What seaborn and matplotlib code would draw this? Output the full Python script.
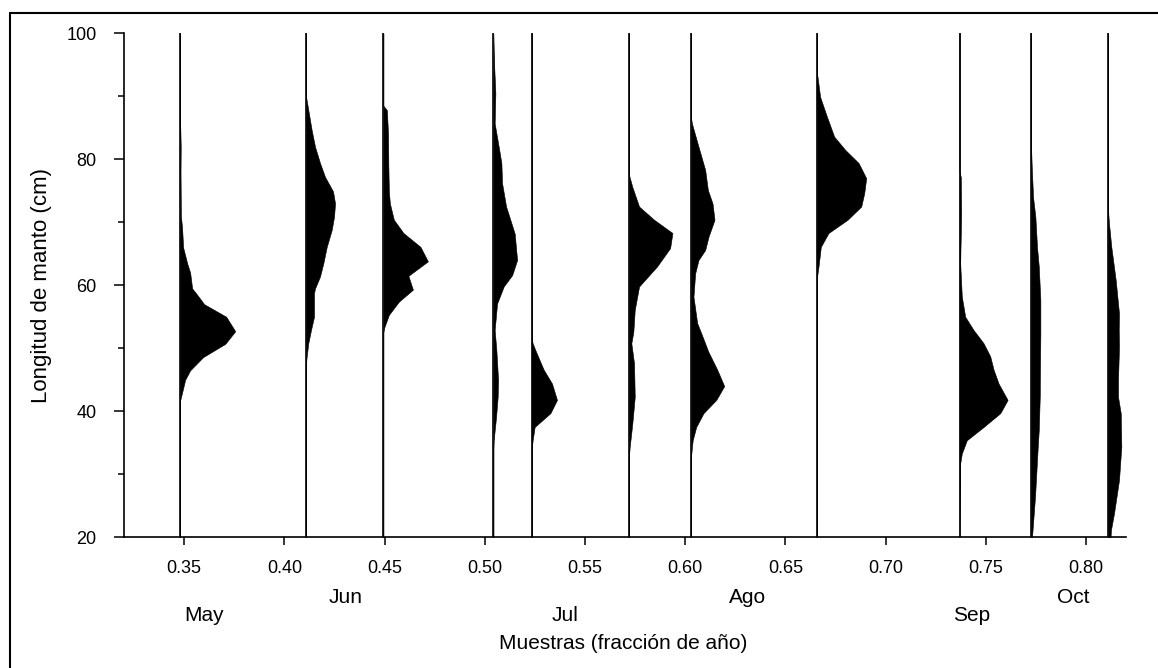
import numpy as np
import matplotlib
matplotlib.use("Agg")
import matplotlib.pyplot as plt
import matplotlib.transforms as mtransforms
from matplotlib.lines import Line2D
import seaborn as sns

# Sampling dates (fraction of year) and the length-frequency profile of each sample.
# Lengths in cm, frequencies in relative units (drawn to the right of each sample line).
sample_x = [0.348, 0.4108, 0.4494, 0.5043, 0.5234, 0.5720, 0.6030, 0.6657, 0.7369, 0.7726, 0.8110]

len_s01 = [100, 86, 82, 78, 74, 71, 69, 66, 63.5, 62, 59.5, 58.7, 57, 55, 52.7, 50.7, 48.6, 46.5, 45, 43, 41.7, 20]
frq_s01 = [0, 0, 0.6, 0.4, 0.6, 0.8, 2, 3, 7, 10, 12, 16, 24, 46, 55, 45, 23, 10, 5, 2, 0, 0]

len_s02 = [100, 90, 84.6, 82, 79.4, 77.2, 74.9, 73, 70.9, 68.8, 66.1, 63.5, 61.4, 59.5, 58.7, 55, 52.9, 50.8, 48.7, 47.5, 20]
frq_s02 = [0, 0, 5.7, 9, 14, 19, 27, 29, 28, 25.7, 20.7, 17.3, 14, 9, 8, 8, 5, 2.3, 0.7, 0, 0]

len_s03 = [100, 88.5, 87.8, 84, 79, 75, 73, 70.4, 68.3, 66.1, 63.8, 61.5, 59.3, 57.4, 55.3, 53.2, 52.5, 20]
frq_s03 = [0, 0, 3.5, 4.7, 5, 5.5, 6.5, 10.5, 20, 37, 44.5, 25, 29.5, 15.5, 5.5, 0.7, 0, 0]

len_s04 = [100, 95.2, 90.5, 85.7, 82, 79.4, 76.2, 72.5, 68.2, 64, 61.6, 59.8, 57.1, 52.9, 49.7, 45, 42.3, 39.1, 35.4, 34, 20]
frq_s04 = [0, 0.7, 2, 1.3, 5.3, 8, 8.7, 12.7, 21.3, 23.7, 18.7, 10.3, 3.7, 1.3, 3, 4.7, 4.3, 2.7, 0.3, 0, 0]

len_s05 = [100, 51.5, 50.8, 49.7, 46.6, 44.4, 41.8, 39.7, 37.5, 35.4, 33.9, 20]
frq_s05 = [0, 0, 1, 3.7, 12, 20.3, 25.3, 18.7, 3, 1, 0, 0]

len_s06 = [100, 77.5, 75.6, 72.5, 70.4, 68.3, 65.9, 63, 59.8, 56.1, 52.6, 50.8, 47.6, 42.3, 38.1, 34.4, 33, 20]
frq_s06 = [0, 0, 3.3, 10, 25, 43.3, 41, 28, 10, 5.7, 4.3, 2.3, 5, 5.7, 3.3, 0.7, 0, 0]

len_s07 = [100, 86.5, 85.7, 82, 78.3, 75.1, 73, 70.4, 67.7, 65.6, 64, 61.9, 58.2, 54, 52, 49.5, 46.6, 44, 41.8, 39.7, 37.5, 35.4, 33, 20]
frq_s07 = [0, 0, 0.7, 7.3, 14, 16.7, 21.3, 23.3, 17.3, 14, 7.3, 4, 2.3, 6, 11, 17, 26, 33, 25, 12.3, 5, 1.5, 0, 0]

len_s08 = [100, 93.5, 93.1, 89.9, 86.8, 83.6, 81.5, 79.4, 77, 74.6, 72.5, 70.4, 68.3, 66.1, 63, 61.4, 20]
frq_s08 = [0, 0, 0.7, 3.3, 10, 17.3, 28.3, 41.7, 49.3, 47.3, 44.3, 30.7, 11.7, 4, 1.7, 0.3, 0]

len_s09 = [100, 78, 77.2, 71.4, 63.5, 58.2, 55, 52.9, 50.8, 48.7, 46.6, 44.4, 41.8, 39.7, 37.5, 35.4, 33.3, 31.7, 20]
frq_s09 = [0, 0, 1.3, 1.7, 0.7, 2.3, 5.7, 14, 24, 30.7, 34, 39, 48, 40.7, 24, 7.3, 2.3, 0.7, 0]

len_s10 = [100, 82, 78.8, 74, 70.9, 66, 63, 57.7, 52.4, 42.3, 37, 34.4, 26.5, 21.2, 20]
frq_s10 = [0, 0, 0.7, 2, 4.3, 6, 7.7, 9.3, 9.3, 8.7, 7.7, 6.7, 4, 1.5, 1]

len_s11 = [100, 72, 69.8, 66.1, 60.8, 55.5, 52.9, 50.3, 45, 42.3, 39.7, 34.4, 29.1, 23.8, 21.2, 20]
frq_s11 = [0, 0, 1, 3.3, 7.7, 11, 10.7, 11, 10, 10, 12.7, 13.3, 11, 6, 3, 2.5]

lengths = [len_s01, len_s02, len_s03, len_s04, len_s05, len_s06,
           len_s07, len_s08, len_s09, len_s10, len_s11]
freqs = [frq_s01, frq_s02, frq_s03, frq_s04, frq_s05, frq_s06,
         frq_s07, frq_s08, frq_s09, frq_s10, frq_s11]

# Month names placed under the axis, two staggered rows
month_names = ["May", "Jun", "Jul", "Ago", "Sep", "Oct"]
month_x = [0.3600, 0.4306, 0.5401, 0.6312, 0.7431, 0.7938]
month_row = [1, 0, 1, 0, 1, 0]

x_ticks = [0.35, 0.40, 0.45, 0.50, 0.55, 0.60, 0.65, 0.70, 0.75, 0.80]
x_ticklabels = ["0.35", "0.40", "0.45", "0.50", "0.55", "0.60", "0.65", "0.70", "0.75", "0.80"]
y_major = [20, 40, 60, 80, 100]
y_minor = [30, 50, 70, 90]

FREQ_SCALE = 0.0005  # fraction-of-year units per frequency unit

sns.set_theme(style="ticks")
plt.rcParams["font.family"] = ["Liberation Sans", "DejaVu Sans"]
plt.rcParams["axes.linewidth"] = 1.2

fig = plt.figure(figsize=(11.58, 6.68), dpi=100)
ax = fig.add_axes([0.1071, 0.1957, 0.8653, 0.7545])

for x0, ln, fq in zip(sample_x, lengths, freqs):
    ln = np.asarray(ln, dtype=float)
    fq = np.asarray(fq, dtype=float)
    ax.fill_betweenx(ln, x0, x0 + fq * FREQ_SCALE, color="black", lw=0.4,
                     edgecolor="black")

ax.vlines(sample_x, y_major[0], y_major[-1], colors="black", lw=1.2)

ax.set_xlim(0.32, 0.82)
ax.set_ylim(y_major[0], y_major[-1])
ax.set_xticks(x_ticks)
ax.set_xticklabels(x_ticklabels)
ax.set_yticks(y_major)
ax.set_yticks(y_minor, minor=True)
ax.set_yticklabels([str(v) for v in y_major])

ax.tick_params(axis="x", which="major", direction="out", length=5.8, width=1.1,
               labelsize=13, pad=10.5, colors="black")
ax.tick_params(axis="y", which="major", direction="out", length=7.2, width=1.1,
               labelsize=13, pad=12.5, colors="black")
ax.tick_params(axis="y", which="minor", direction="out", length=4.3, width=1.1,
               colors="black", left=True)
sns.despine(ax=ax)
for side in ("left", "bottom"):
    ax.spines[side].set_color("black")
    ax.spines[side].set_linewidth(1.2)

ax.set_ylabel("Longitud de manto (cm)", fontsize=16, color="black")
ax.yaxis.set_label_coords(-0.072, 0.5)

ax.set_xlabel("Muestras (fracción de año)", fontsize=15, color="black")
ax.xaxis.label.set_va("baseline")
ax.xaxis.set_label_coords(0.498, -0.2222)

trans = mtransforms.blended_transform_factory(ax.transData, ax.transAxes)
row_y = [-0.1298, -0.1665]
for name, mx, r in zip(month_names, month_x, month_row):
    ax.text(mx, row_y[r], name, transform=trans, ha="center", va="baseline",
            fontsize=15, color="black")

# frame lines along the top and left of the figure
fig.add_artist(Line2D([0.0085, 1.0], [0.981, 0.981], transform=fig.transFigure,
                      color="black", lw=1.5))
fig.add_artist(Line2D([0.0085, 0.0085], [0.0, 0.981], transform=fig.transFigure,
                      color="black", lw=1.5))

fig.savefig("out.png", dpi=100, facecolor="white")
